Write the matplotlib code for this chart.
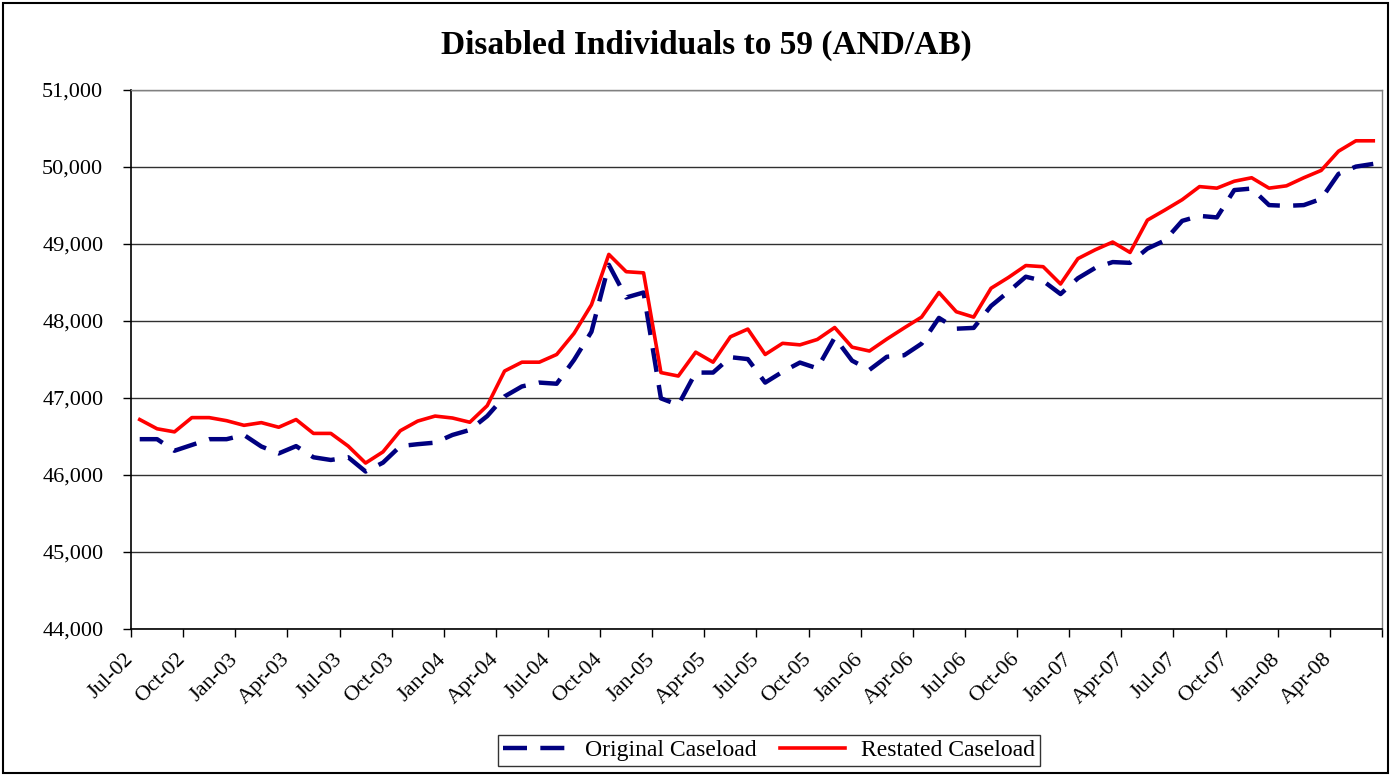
import matplotlib
matplotlib.use("Agg")
import matplotlib.pyplot as plt
from matplotlib.patches import Rectangle
from matplotlib.ticker import FuncFormatter
from matplotlib.transforms import ScaledTranslation
import numpy as np

# monthly caseload, Jul-02 .. Jun-08
original = [46465, 46465, 46315, 46390, 46465, 46465, 46520, 46370, 46280, 46375,
            46230, 46195, 46230, 46045, 46160, 46375, 46400, 46420, 46520, 46585,
            46765, 47020, 47150, 47200, 47185, 47495, 47860, 48730, 48305, 48370,
            46995, 46910, 47330, 47330, 47530, 47505, 47200, 47340, 47460, 47385,
            47785, 47485, 47365, 47535, 47555, 47705, 48040, 47900, 47910, 48195,
            48380, 48575, 48520, 48350, 48555, 48690, 48765, 48755, 48940, 49045,
            49300, 49365, 49345, 49700, 49720, 49505, 49495, 49505, 49585, 49910,
            50005, 50040]
restated = [46720, 46600, 46560, 46745, 46745, 46705, 46645, 46680, 46620, 46720,
            46540, 46540, 46375, 46155, 46300, 46575, 46700, 46765, 46740, 46685,
            46900, 47350, 47465, 47465, 47565, 47840, 48210, 48865, 48640, 48625,
            47330, 47285, 47595, 47465, 47795, 47895, 47565, 47710, 47690, 47760,
            47915, 47660, 47610, 47765, 47910, 48050, 48370, 48120, 48050, 48425,
            48565, 48720, 48705, 48480, 48810, 48925, 49025, 48890, 49310, 49440,
            49575, 49745, 49725, 49815, 49860, 49725, 49755, 49860, 49955, 50205,
            50340, 50340]
tick_labels = ["Jul-02", "Oct-02", "Jan-03", "Apr-03", "Jul-03", "Oct-03",
               "Jan-04", "Apr-04", "Jul-04", "Oct-04", "Jan-05", "Apr-05",
               "Jul-05", "Oct-05", "Jan-06", "Apr-06", "Jul-06", "Oct-06",
               "Jan-07", "Apr-07", "Jul-07", "Oct-07", "Jan-08", "Apr-08"]

plt.rcParams['font.family'] = ['Liberation Serif', 'DejaVu Serif']

fig = plt.figure(figsize=(13.91, 7.75), dpi=100)
fig.patches.append(Rectangle((0.002, 0.002), 0.996, 0.994, transform=fig.transFigure,
                             fill=False, edgecolor='black', linewidth=1.5))
ax = fig.add_axes([0.0942, 0.1884, 0.8993, 0.6955])

n = len(restated)
x = np.arange(n) + 0.5
ax.plot(x, original, color='#000080', linewidth=3.2, dashes=(5.4, 3.0),
        label='Original Caseload', dash_capstyle='butt')
ax.plot(x, restated, color='#ff0000', linewidth=2.6, label='Restated Caseload')

ax.set_xlim(0, n)
ax.set_ylim(44000, 51000)
ax.set_yticks(np.arange(44000, 51001, 1000))
ax.yaxis.set_major_formatter(FuncFormatter(lambda v, p: f"{int(v):,}"))
ax.grid(axis='y', color='#303030', linewidth=1.0)
ax.set_axisbelow(True)

ticks = np.arange(0, n + 1, 3)
ax.set_xticks(ticks)
ax.set_xticklabels(tick_labels + [""] * (len(ticks) - len(tick_labels)),
                   rotation=45, ha='right', rotation_mode='anchor')
ax.tick_params(axis='both', labelsize=16, direction='out', length=6, width=1)
ax.tick_params(axis='x', pad=9)
ax.tick_params(axis='y', pad=14)
shift = ScaledTranslation(-5 / 72, 0, fig.dpi_scale_trans)
for lab in ax.get_xticklabels():
    lab.set_transform(lab.get_transform() + shift)

for s in ['left', 'bottom']:
    ax.spines[s].set_color('black')
    ax.spines[s].set_linewidth(1.2)
for s in ['top', 'right']:
    ax.spines[s].set_color('#808080')
    ax.spines[s].set_linewidth(1.0)

fig.text(0.508, 0.942, "Disabled Individuals to 59 (AND/AB)", ha='center', va='center',
         fontsize=24, fontweight='bold')

leg = fig.legend(loc='center', bbox_to_anchor=(0.553, 0.032), ncol=2, fontsize=17,
                 frameon=True, fancybox=False, edgecolor='black', handlelength=2.75,
                 columnspacing=1.0, handletextpad=0.7, borderpad=0.2, borderaxespad=0)
leg.get_frame().set_linewidth(1.0)

fig.savefig("out.png", dpi=100)
